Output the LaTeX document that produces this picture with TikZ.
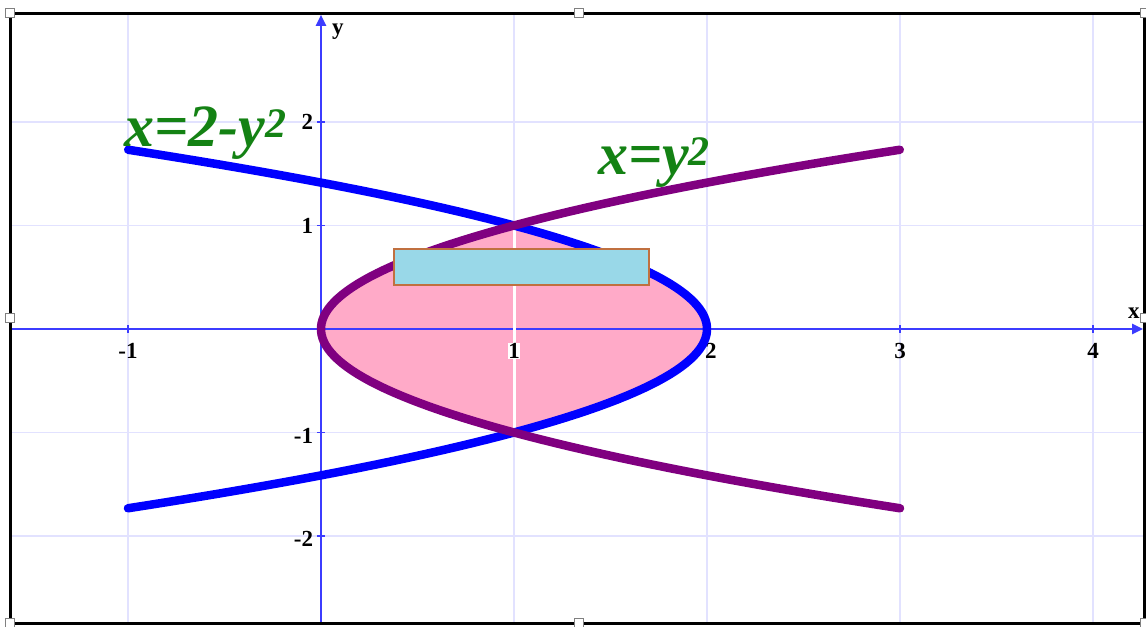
\documentclass[tikz,border=0pt]{standalone}
\usepackage{fontspec}
\setmainfont{Liberation Serif}
\usetikzlibrary{arrows.meta}
\definecolor{gridc}{RGB}{226,226,255}
\definecolor{axisc}{RGB}{60,60,255}
\definecolor{curveblue}{RGB}{0,0,255}
\definecolor{curvepurple}{RGB}{128,0,128}
\definecolor{pinkfill}{RGB}{255,170,200}
\definecolor{boxfill}{RGB}{153,216,232}
\definecolor{boxedge}{RGB}{192,112,64}
\definecolor{labgreen}{RGB}{20,130,20}
\tikzset{
  gridline/.style={gridc,line width=1.5pt},
  axisline/.style={axisc,line width=2.5pt},
  curve/.style={line width=8.5pt,line cap=round},
  ticklab/.style={font=\bfseries\fontsize{23}{23}\selectfont,inner sep=1pt},
  eqlab/.style={font=\bfseries\itshape\fontsize{60}{60}\selectfont,text=labgreen,inner sep=0pt,anchor=base west},
  handle/.style={draw=gray,fill=white,line width=1pt,minimum size=9pt,inner sep=0pt,rectangle},
}
\begin{document}
\begin{tikzpicture}[x=193pt,y=103.5pt]
\useasboundingbox (-1.6632,-2.8696) rectangle (4.2746,3.1787);
\fill[white] (-1.6632,-2.8696) rectangle (4.2746,3.1787);
% grid
\foreach \gx in {-1,0,1,2,3,4} \draw[gridline] (\gx,-2.841) -- (\gx,3.053);
\foreach \gy in {-2,-1,1,2} \draw[gridline] (-1.611,\gy) -- (4.269,\gy);
% region
\fill[pinkfill] plot[domain=-1:1,samples=60,variable=\t] ({\t*\t},\t)
  -- plot[domain=1:-1,samples=60,variable=\t] ({2-\t*\t},\t) -- cycle;
% axes
\draw[axisline,-{Triangle[length=11pt,width=10pt]}] (-1.611,0) -- (4.259,0);
\draw[axisline,-{Triangle[length=11pt,width=10pt]}] (0,-2.841) -- (0,3.034);
\foreach \gx in {-1,1,2,3,4} \draw[axisc,line width=1.5pt] (\gx,0) ++(0,-4pt) -- ++(0,8pt);
\foreach \gy in {-2,-1,1,2} \draw[axisc,line width=1.5pt] (0,\gy) ++(-4pt,0) -- ++(8pt,0);
% white divider
\draw[white,line width=3pt] (1,-1) -- (1,1);
% tick labels
\node[ticklab] (lxm1) at (-1,-0.215) {-1};
\node[ticklab,fill=white,inner sep=0.5pt] (lx1) at (1,-0.215) {1};
\node[ticklab] (lx2) at (2.02,-0.215) {2};
\node[ticklab] (lx3) at (3,-0.215) {3};
\node[ticklab] (lx4) at (4,-0.215) {4};
\node[ticklab,anchor=east] (ly2) at (-0.035,2) {2};
\node[ticklab,anchor=east] (ly1) at (-0.035,1) {1};
\node[ticklab,anchor=east] (lym1) at (-0.035,-1.03) {-1};
\node[ticklab,anchor=east] (lym2) at (-0.035,-2.03) {-2};
\node[ticklab] (ylab) at (0.088,2.87) {y};
\node[ticklab] (xlab) at (4.212,0.155) {x};
% curves
\draw[curve,curveblue] plot[domain=-1.7321:1.7321,samples=100,variable=\t] ({2-\t*\t},\t);
\draw[curve,curvepurple] plot[domain=-1.7321:1.7321,samples=100,variable=\t] ({\t*\t},\t);
% rectangle
\draw[fill=boxfill,draw=boxedge,line width=1.5pt] (0.378,0.425) rectangle (1.70,0.773);
% equation labels
\node[eqlab] (eq1) at (-1.02,1.7585) {x=2-y\textsuperscript{2}};
\node[eqlab] (eq2) at (1.435,1.488) {x=y\textsuperscript{2}};
% frame
\draw[black,line width=3pt] (-1.611,-2.841) rectangle (4.269,3.053);
\node[handle] (h1) at (-1.611,3.053) {};
\node[handle] (h2) at (1.337,3.053) {};
\node[handle] (h3) at (4.269,3.053) {};
\node[handle] (h4) at (-1.611,0.106) {};
\node[handle] (h5) at (4.269,0.106) {};
\node[handle] (h6) at (-1.611,-2.841) {};
\node[handle] (h7) at (1.337,-2.841) {};
\node[handle] (h8) at (4.269,-2.841) {};
\end{tikzpicture}
\end{document}
